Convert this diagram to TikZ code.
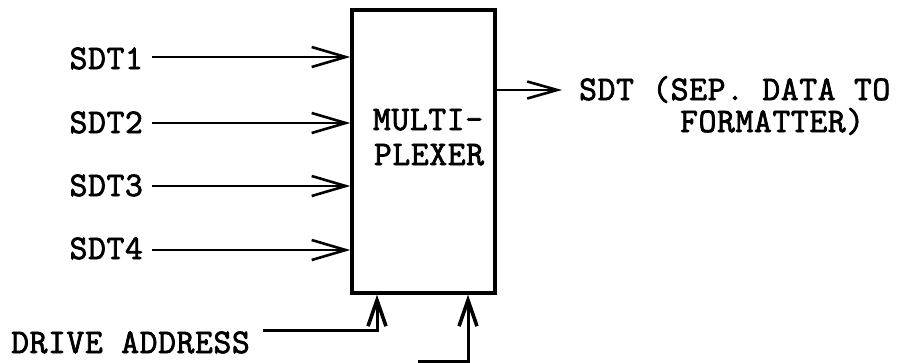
\documentclass[tikz,border=0pt]{standalone}
\usepackage{fontspec}
\setmonofont{Latin Modern Mono}[AutoFakeBold=2.2,LetterSpace=2]
\usetikzlibrary{arrows.meta}
\begin{document}
\begin{tikzpicture}[x=1pt,y=-1pt,
  lbl/.style={font=\ttfamily\bfseries\fontsize{34.5}{38}\selectfont, inner sep=0pt},
  inarrow/.style={line width=2.8pt, -{Straight Barb[length=34pt,width=20pt,line width=2.6pt]}},
  outarrow/.style={line width=2.8pt, -{Straight Barb[length=30pt,width=17pt,line width=2.6pt]}},
  uparrow/.style={line width=3pt, -{Straight Barb[length=26pt,width=18pt,line width=3.6pt]}},
  mux/.style={draw, line width=3.4pt, minimum width=143pt, minimum height=283pt, inner sep=0pt}]
\useasboundingbox (0,0) rectangle (907,362);
\node[mux] (box) at (423.5,151.5) {};
\node[lbl, anchor=base] (m1) at (428,130) {MULTI-};
\node[lbl, anchor=base] (m2) at (429,165) {PLEXER};
% inputs
\node[lbl, anchor=base east] (s1) at (143,69) {SDT1};
\node[lbl, anchor=base east] (s2) at (143,133) {SDT2};
\node[lbl, anchor=base east] (s3) at (143,196) {SDT3};
\node[lbl, anchor=base east] (s4) at (143,259) {SDT4};
\foreach \n/\dy in {s1/12pt,s2/10pt,s3/10pt,s4/9pt}{
  \draw[inarrow] ([xshift=9pt,yshift=\dy]\n.base east) coordinate (a\n) -- (a\n -| box.west);
}
% output
\node[lbl, anchor=base west] (o1) at (579,100) {SDT (SEP. DATA TO};
\node[lbl, anchor=base west] (o2) at (680,132) {FORMATTER)};
\coordinate (ot) at ([xshift=-17pt,yshift=10pt]o1.base west);
\draw[outarrow] (ot -| box.east) -- (ot);
% drive address
\node[lbl, anchor=base west] (da) at (11,353) {DRIVE ADDRESS};
\coordinate (dstart) at ([xshift=13pt,yshift=23pt]da.base east);
\coordinate (dx) at (377,0);
\draw[uparrow] (dstart) -- (dstart -| dx) -- (dx |- box.south);
% second control line
\coordinate (b0) at (418,361);
\coordinate (bx) at (468,0);
\draw[uparrow] (b0) -- (b0 -| bx) -- (bx |- box.south);
\end{tikzpicture}
\end{document}
